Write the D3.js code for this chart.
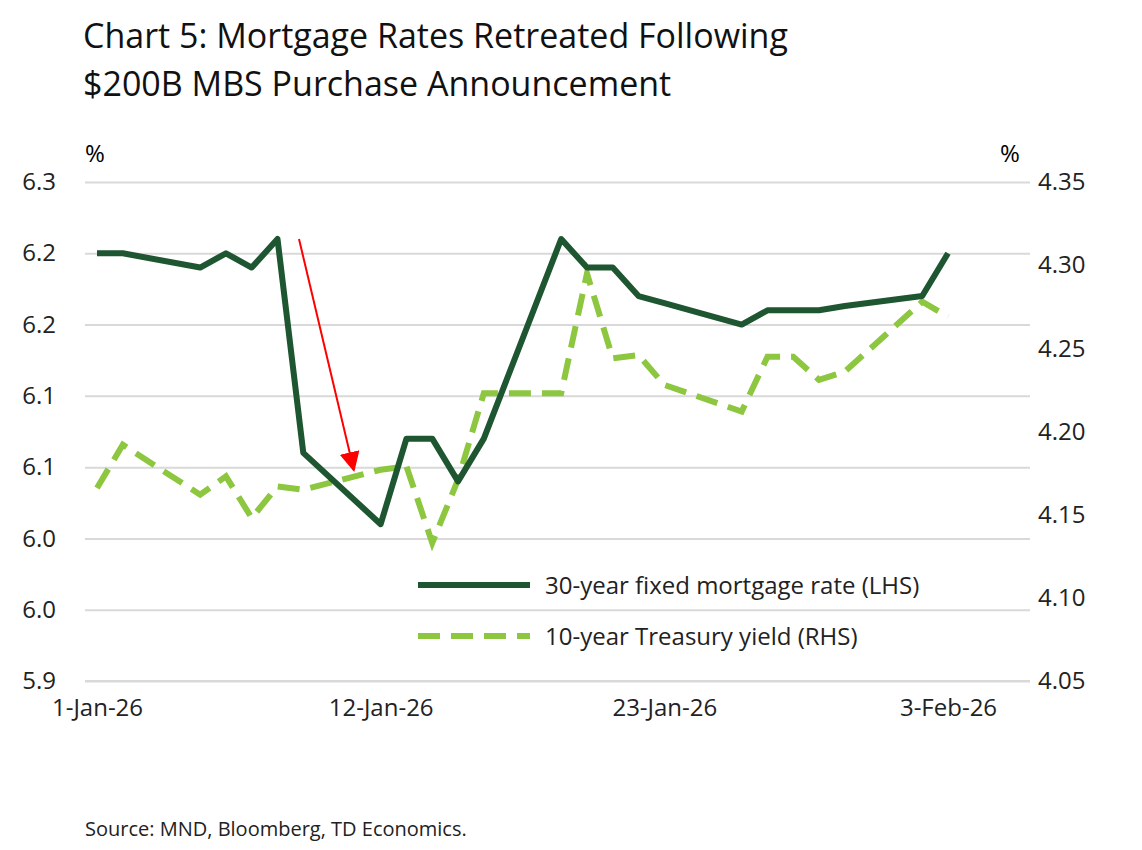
<!DOCTYPE html>
<html><head><meta charset="utf-8">
<script src="https://cdn.jsdelivr.net/npm/d3@7"></script>
<style>body{margin:0;background:#fff}text{font-family:"Open Sans",sans-serif}</style>
</head><body><svg id="c" width="1142" height="850"></svg>
<script>
const dates=["2026-01-01","2026-01-02","2026-01-05","2026-01-06","2026-01-07","2026-01-08","2026-01-09","2026-01-12","2026-01-13","2026-01-14","2026-01-15","2026-01-16","2026-01-19","2026-01-20","2026-01-21","2026-01-22","2026-01-23","2026-01-26","2026-01-27","2026-01-28","2026-01-29","2026-01-30","2026-02-02","2026-02-03"];
const mortgage=[6.25,6.25,6.24,6.25,6.24,6.26,6.11,6.06,6.12,6.12,6.09,6.12,6.26,6.24,6.24,6.22,6.215,6.20,6.21,6.21,6.21,6.213,6.22,6.25];
const treasury=[4.166,4.192,4.162,4.173,4.148,4.167,4.165,4.177,4.179,4.133,4.171,4.223,4.223,4.295,4.244,4.246,4.228,4.212,4.245,4.245,4.231,4.236,4.278,4.269];
const leftTicks=[5.95,6.00,6.05,6.10,6.15,6.20,6.25,6.30];
const leftLabels=["5.9","6.0","6.0","6.1","6.1","6.2","6.2","6.3"];
const rightTicks=[4.05,4.10,4.15,4.20,4.25,4.30,4.35];
const xTicks=["2026-01-01","2026-01-12","2026-01-23","2026-02-03"];
const xLabels=["1-Jan-26","12-Jan-26","23-Jan-26","3-Feb-26"];
const arrow=[["2026-01-08T20:00",6.26],["2026-01-10T23:00",6.098]];

const svg=d3.select("#c");
const p=d3.utcParse("%Y-%m-%d"), pa=d3.utcParse("%Y-%m-%dT%H:%M");
const x=d3.scaleUtc().domain([p("2026-01-01"),p("2026-02-03")]).range([97,948]);
const yL=d3.scaleLinear().domain([5.95,6.30]).range([681,182]);
const yR=d3.scaleLinear().domain([4.05,4.35]).range([681,182]);

svg.append("text").attr("x",83).attr("y",48).attr("font-size",34).attr("fill","#111").text("Chart 5: Mortgage Rates Retreated Following");
svg.append("text").attr("x",83).attr("y",96).attr("font-size",34).attr("fill","#111").text("$200B MBS Purchase Announcement");

const gl=svg.append("g").attr("transform","translate(85,0)").call(d3.axisLeft(yL).tickValues(leftTicks).tickFormat((d,i)=>leftLabels[i]).tickSize(-945).tickPadding(10));
gl.select(".domain").remove();
gl.selectAll("line").attr("stroke","#d9d9d9").attr("stroke-width",2);
gl.selectAll("text").attr("font-size",24).attr("fill","#222").attr("x",-29).attr("text-anchor","end");
const gr=svg.append("g").attr("transform","translate(1030,0)").call(d3.axisRight(yR).tickValues(rightTicks).tickFormat(d3.format(".2f")).tickSize(0).tickPadding(8));
gr.select(".domain").remove();
gr.selectAll("text").attr("font-size",24).attr("fill","#222");
const gx=svg.append("g").attr("transform","translate(0,681)").call(d3.axisBottom(x).tickValues(xTicks.map(p)).tickFormat((d,i)=>xLabels[i]).tickSize(0).tickPadding(18));
gx.select(".domain").attr("stroke","#d9d9d9").attr("stroke-width",2).attr("d","M85,0H1030");
gx.selectAll("text").attr("font-size",24).attr("fill","#222");

svg.append("text").attr("x",85).attr("y",162).attr("font-size",24).text("%");
svg.append("text").attr("x",1000).attr("y",162).attr("font-size",24).text("%");

const ln=(y,arr)=>d3.line().x((d,i)=>x(p(dates[i]))).y(d=>y(d))(arr);
svg.append("path").attr("d",ln(yR,treasury)).attr("fill","none").attr("stroke","#8dc63f").attr("stroke-width",6).attr("stroke-dasharray","22,11");
svg.append("path").attr("d",ln(yL,mortgage)).attr("fill","none").attr("stroke","#1e5631").attr("stroke-width",6).attr("stroke-linejoin","round");

const defs=svg.append("defs");
defs.append("marker").attr("id","ah").attr("viewBox","0 0 10 10").attr("refX",9).attr("refY",5).attr("orient","auto").attr("markerUnits","userSpaceOnUse").attr("markerWidth",20).attr("markerHeight",20)
 .append("path").attr("d","M0,0L10,5L0,10z").attr("fill","#ff0000");
svg.append("line").attr("x1",x(pa(arrow[0][0]))).attr("y1",yL(arrow[0][1])).attr("x2",x(pa(arrow[1][0]))).attr("y2",yL(arrow[1][1])).attr("stroke","#ff0000").attr("stroke-width",2).attr("marker-end","url(#ah)");

const leg=[["30-year fixed mortgage rate (LHS)","#1e5631",null,585],["10-year Treasury yield (RHS)","#8dc63f","22,11",636]];
leg.forEach(l=>{
 svg.append("line").attr("x1",418).attr("x2",530).attr("y1",l[3]).attr("y2",l[3]).attr("stroke",l[1]).attr("stroke-width",6).attr("stroke-dasharray",l[2]);
 svg.append("text").attr("x",545).attr("y",l[3]+9).attr("font-size",24).attr("fill","#222").text(l[0]);
});
svg.append("text").attr("x",85).attr("y",836).attr("font-size",20).attr("fill","#222").text("Source: MND, Bloomberg, TD Economics.");
</script></body></html>
